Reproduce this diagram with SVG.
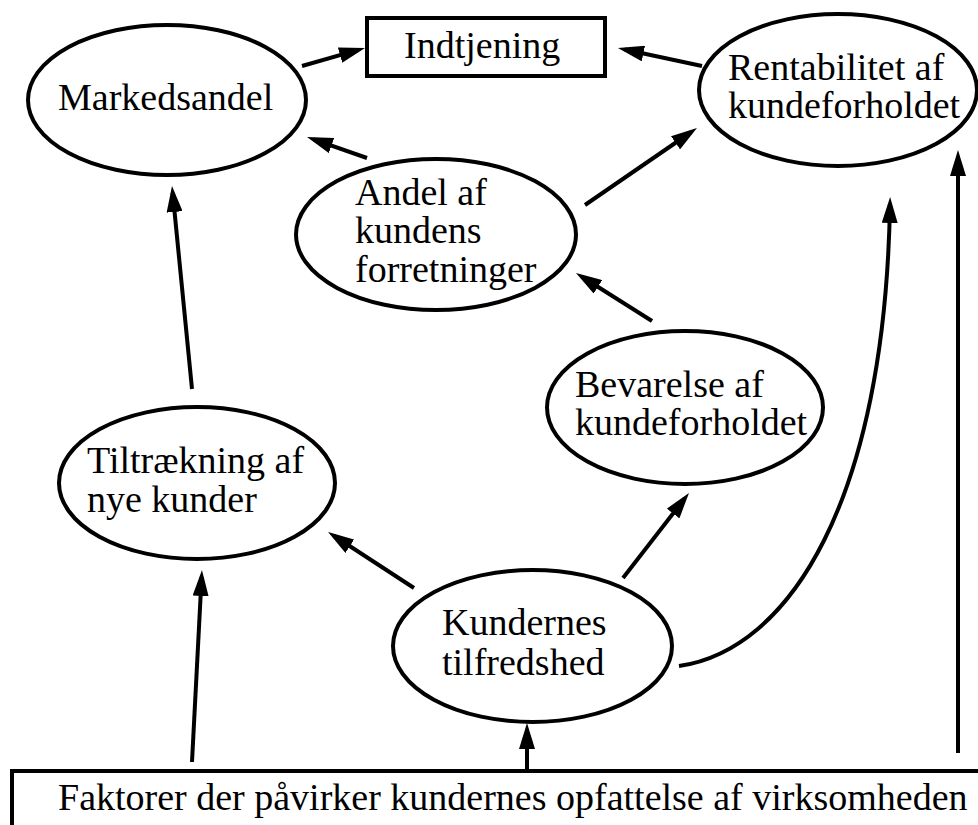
<svg xmlns="http://www.w3.org/2000/svg" width="978" height="825" viewBox="0 0 978 825">
<style>
.n{fill:#fff;stroke:#000;stroke-width:4}
.t{font-family:"Liberation Serif","Times New Roman",serif;font-size:38px;fill:#000}
.c{fill:none;stroke:#000;stroke-width:4;marker-end:url(#ah)}
</style>
<defs>
<marker id="ah" viewBox="0 0 26 16" markerUnits="userSpaceOnUse" markerWidth="26" markerHeight="16" refX="19" refY="8" orient="auto">
<path d="M0,0 L26,8 L0,16 z" fill="#000"/>
</marker>
</defs>
<rect width="978" height="825" fill="#fff"/>
<g id="markedsandel">
<ellipse class="n" cx="167" cy="100" rx="139" ry="75"/>
<text class="t" x="58" y="110">Markedsandel</text>
</g>
<g id="indtjening">
<rect class="n" x="367" y="18" width="238" height="58"/>
<text class="t" x="404" y="58">Indtjening</text>
</g>
<g id="rentabilitet">
<ellipse class="n" cx="838" cy="90" rx="139" ry="76"/>
<text class="t" x="728" y="80">Rentabilitet af</text>
<text class="t" x="728" y="118">kundeforholdet</text>
</g>
<g id="andel">
<ellipse class="n" cx="436" cy="234.5" rx="140" ry="75.5"/>
<text class="t" x="355" y="205">Andel af</text>
<text class="t" x="355" y="243">kundens</text>
<text class="t" x="355" y="282">forretninger</text>
</g>
<g id="tiltraekning">
<ellipse class="n" cx="197" cy="483" rx="138" ry="76"/>
<text class="t" x="87" y="473">Tiltrækning af</text>
<text class="t" x="87" y="512">nye kunder</text>
</g>
<g id="bevarelse">
<ellipse class="n" cx="685" cy="407.5" rx="138" ry="76.5"/>
<text class="t" x="575" y="397">Bevarelse af</text>
<text class="t" x="575" y="435">kundeforholdet</text>
</g>
<g id="kundernes">
<ellipse class="n" cx="532.5" cy="646" rx="139.5" ry="76"/>
<text class="t" x="442" y="635">Kundernes</text>
<text class="t" x="442" y="675">tilfredshed</text>
</g>
<g id="faktorer">
<rect class="n" x="12" y="771" width="990" height="90"/>
<text class="t" x="58" y="810">Faktorer der påvirker kundernes opfattelse af virksomheden</text>
</g>
<g id="connectors">
<path class="c" d="M302,66 L358.3,49.9"/>
<path class="c" d="M702,66 L624.8,49.5"/>
<path class="c" d="M367,158 L313.6,139.3"/>
<path class="c" d="M585,205 L691.2,132"/>
<path class="c" d="M192,389 L172.7,193"/>
<path class="c" d="M652,321 L581.9,276.7"/>
<path class="c" d="M414,588 L333.9,535.8"/>
<path class="c" d="M623,578 L684.7,498.5"/>
<path class="c" d="M527,771 L527,730"/>
<path class="c" d="M192,762 L201.6,577"/>
<path class="c" d="M958,753 L958,157"/>
<path class="c" d="M679,666 C790,650 885,500 890,204"/>
</g>
</svg>
